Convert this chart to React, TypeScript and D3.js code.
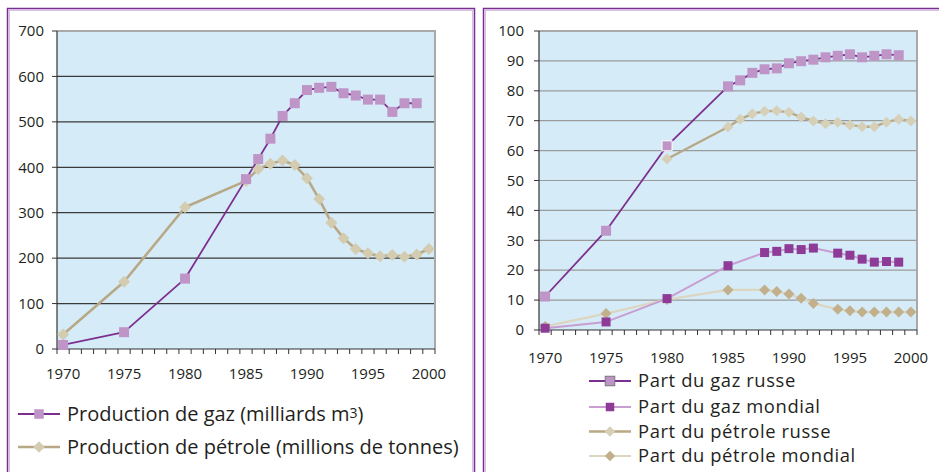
import React from "react";
import * as d3 from "d3";

const years = d3.range(1970, 2001);
const xTickLabels = [1970, 1975, 1980, 1985, 1990, 1995, 2000];

// Left chart
const leftYTicks = [0, 100, 200, 300, 400, 500, 600, 700];
const gasYears = [1970, 1975, 1980, 1985, 1986, 1987, 1988, 1989, 1990, 1991, 1992, 1993, 1994, 1995, 1996, 1997, 1998, 1999];
const gasValues = [9, 37, 155, 374, 418, 463, 513, 541, 570, 575, 577, 563, 558, 549, 549, 522, 541, 541];
const oilYears = [1970, 1975, 1980, 1985, 1986, 1987, 1988, 1989, 1990, 1991, 1992, 1993, 1994, 1995, 1996, 1997, 1998, 1999, 2000];
const oilValues = [32, 148, 312, 370, 396, 408, 415, 405, 376, 330, 278, 244, 220, 211, 204, 207, 203, 208, 220];

// Right chart
const rightYTicks = [0, 10, 20, 30, 40, 50, 60, 70, 80, 90, 100];
const gazRusseYears = [1970, 1975, 1980, 1985, 1986, 1987, 1988, 1989, 1990, 1991, 1992, 1993, 1994, 1995, 1996, 1997, 1998, 1999];
const gazRusseValues = [11.2, 33.2, 61.6, 81.5, 83.5, 86, 87.2, 87.5, 89.2, 89.9, 90.4, 91.2, 91.7, 92.2, 91.2, 91.7, 92.2, 91.9];
const gazMondialYears = [1970, 1975, 1980, 1985, 1988, 1989, 1990, 1991, 1992, 1994, 1995, 1996, 1997, 1998, 1999];
const gazMondialValues = [0.6, 2.7, 10.5, 21.5, 25.9, 26.3, 27.2, 26.9, 27.4, 25.7, 25.0, 23.7, 22.7, 22.9, 22.7];
const petroleRusseYears = [1980, 1985, 1986, 1987, 1988, 1989, 1990, 1991, 1992, 1993, 1994, 1995, 1996, 1997, 1998, 1999, 2000];
const petroleRusseValues = [57.2, 67.9, 70.5, 72.3, 73.2, 73.3, 72.8, 71.2, 69.9, 69.0, 69.5, 68.6, 68.0, 68.0, 69.5, 70.5, 69.9];
const petroleMondialYears = [1970, 1975, 1980, 1985, 1988, 1989, 1990, 1991, 1992, 1994, 1995, 1996, 1997, 1998, 1999, 2000];
const petroleMondialValues = [1.2, 5.5, 10.2, 13.4, 13.4, 12.9, 12.0, 10.6, 8.9, 6.9, 6.4, 6.0, 6.0, 6.0, 6.0, 6.0];

const FONT = "'Open Sans', 'DejaVu Sans', sans-serif";
const TEXT = "#231f20";
const BG = "#d5ecf8";

type Series = {
  years: number[];
  values: number[];
  line: string;
  lineWidth: number;
  marker: "square" | "diamond";
  fill: string;
  size: number;
  stroke?: string;
};

function Marker({ x, y, kind, fill, size, stroke }: { x: number; y: number; kind: string; fill: string; size: number; stroke?: string }) {
  if (kind === "square") {
    return <rect x={x - size / 2} y={y - size / 2} width={size} height={size} fill={fill} stroke={stroke || "none"} strokeWidth={stroke ? 1 : 0} />;
  }
  const h = size / 2;
  return <path d={`M${x},${y - h}L${x + h},${y}L${x},${y + h}L${x - h},${y}Z`} fill={fill} stroke={stroke || "none"} />;
}

function Panel({ x0, x1, y0, y1, yMax, yTicks, gridColor, series, xLabelY, yLabelRight, special }: any) {
  const x = d3.scaleBand<number>().domain(years).range([x0, x1]).padding(0);
  const bw = x.bandwidth();
  const cx = (yr: number) => (x(yr) as number) + bw / 2;
  const y = d3.scaleLinear().domain([0, yMax]).range([y1, y0]);
  const boundaries = d3.range(0, years.length + 1).map((i) => x0 + i * bw);
  return (
    <g>
      <rect x={x0} y={y0} width={x1 - x0} height={y1 - y0} fill={BG} />
      {yTicks.map((t: number) =>
        t > 0 ? <line key={"g" + t} x1={x0} x2={x1} y1={y(t)} y2={y(t)} stroke={gridColor} strokeWidth={1.2} /> : null
      )}
      <line x1={x0} x2={x1 + 1} y1={y0} y2={y0} stroke="#a9a9a9" strokeWidth={2} />
      <line x1={x1} x2={x1} y1={y0} y2={y1} stroke="#a9a9a9" strokeWidth={2} />
      <line x1={x0} x2={x0} y1={y0} y2={y1} stroke="#333" strokeWidth={1.2} />
      <line x1={x0} x2={x1} y1={y1} y2={y1} stroke="#333" strokeWidth={1.2} />
      {yTicks.map((t: number) => (
        <g key={"t" + t}>
          <line x1={x0 - 5} x2={x0} y1={y(t)} y2={y(t)} stroke="#333" strokeWidth={1} />
          <text x={yLabelRight} y={y(t)} dy="0.35em" textAnchor="end" fontFamily={FONT} fontSize={15} fill={TEXT}>{t}</text>
        </g>
      ))}
      {boundaries.map((b: number, i: number) => (
        <line key={"xb" + i} x1={b} x2={b} y1={y1} y2={y1 + 5} stroke="#333" strokeWidth={1} />
      ))}
      {xTickLabels.map((t) => (
        <text key={"xl" + t} x={cx(t)} y={xLabelY} dy="0.35em" textAnchor="middle" fontFamily={FONT} fontSize={15} fill={TEXT}>{t}</text>
      ))}
      {series.map((s: Series, i: number) => {
        const pts: [number, number][] = s.years.map((yr, j) => [cx(yr), y(s.values[j])]);
        return <path key={"l" + i} d={d3.line()(pts) || ""} fill="none" stroke={s.line} strokeWidth={s.lineWidth} strokeLinejoin="round" />;
      })}
      {series.map((s: Series, i: number) => (
        <g key={"m" + i}>
          {s.years.map((yr, j) => (
            <Marker key={j} x={cx(yr)} y={y(s.values[j])} kind={s.marker} fill={s.fill} size={s.size}
              stroke={special && special.series === i && special.year === yr ? "#fff" : s.stroke} />
          ))}
        </g>
      ))}
    </g>
  );
}

function LegendItem({ x, y, s, label, fontSize, strokeMarker, spacing }: any) {
  return (
    <g>
      <line x1={x} x2={x + 42} y1={y} y2={y} stroke={s.line} strokeWidth={s.lineWidth} />
      <Marker x={x + 21} y={y} kind={s.marker} fill={s.fill} size={s.size - 0.5} stroke={strokeMarker} />
      <text x={x + 49} y={y} dy="0.35em" fontFamily={FONT} fontSize={fontSize} letterSpacing={spacing || 0} fill={TEXT}>{label}</text>
    </g>
  );
}

export default function App() {
  const gas: Series = { years: gasYears, values: gasValues, line: "#7d2f90", lineWidth: 1.8, marker: "square", fill: "#bf95c8", size: 10 };
  const oil: Series = { years: oilYears, values: oilValues, line: "#b8a885", lineWidth: 2.6, marker: "diamond", fill: "#d3ccb0", size: 12 };

  const gr: Series = { years: gazRusseYears, values: gazRusseValues, line: "#7d2f90", lineWidth: 1.8, marker: "square", fill: "#bf95c8", size: 10 };
  const gm: Series = { years: gazMondialYears, values: gazMondialValues, line: "#c89ed2", lineWidth: 2, marker: "square", fill: "#8e3b98", size: 9 };
  const pr: Series = { years: petroleRusseYears, values: petroleRusseValues, line: "#b8a885", lineWidth: 2.4, marker: "diamond", fill: "#d6d0b8", size: 11 };
  const pm: Series = { years: petroleMondialYears, values: petroleMondialValues, line: "#dcd5c0", lineWidth: 2.2, marker: "diamond", fill: "#c2b08c", size: 11 };

  return (
    <svg width={939} height={472} style={{ display: "block", position: "absolute", left: 0, top: 0 }}>
      <rect x={0} y={0} width={939} height={472} fill="#fff" />
      {/* panel borders */}
      <path d="M7.5,480V8.5H474.5V480" fill="none" stroke="#7a2e92" strokeWidth={1.5} />
      <path d="M9.2,480V10.2H472.8V480" fill="none" stroke="#c9a3d8" strokeWidth={1} />
      <path d="M483.5,480V8.5H950" fill="none" stroke="#7a2e92" strokeWidth={1.5} />
      <path d="M485.2,480V10.2H950" fill="none" stroke="#c9a3d8" strokeWidth={1} />

      <Panel x0={57} x1={435} y0={31} y1={349} yMax={700} yTicks={leftYTicks} gridColor="#3a3a3a"
        series={[oil, gas]} xLabelY={374} yLabelRight={44} />
      <Panel x0={539} x1={917} y0={31} y1={330} yMax={100} yTicks={rightYTicks} gridColor="#9a9a9a"
        series={[pm, pr, gm, gr]} xLabelY={358} yLabelRight={524} special={{ series: 3, year: 1980 }} />

      <LegendItem x={18} y={414} s={gas} fontSize={20} label={<>Production de gaz (milliards m<tspan fontSize={14} dy={-3}>3</tspan><tspan dy={3}>)</tspan></>} />
      <LegendItem x={18} y={447} s={oil} fontSize={20} label="Production de pétrole (millions de tonnes)" />

      <LegendItem x={589} y={381} s={gr} fontSize={18.4} spacing={0.6} strokeMarker="#777" label="Part du gaz russe" />
      <LegendItem x={589} y={407} s={gm} fontSize={18.4} spacing={0.6} label="Part du gaz mondial" />
      <LegendItem x={589} y={431.5} s={pr} fontSize={18.4} spacing={0.6} label="Part du pétrole russe" />
      <LegendItem x={589} y={456} s={pm} fontSize={18.4} spacing={0.6} label="Part du pétrole mondial" />
    </svg>
  );
}
